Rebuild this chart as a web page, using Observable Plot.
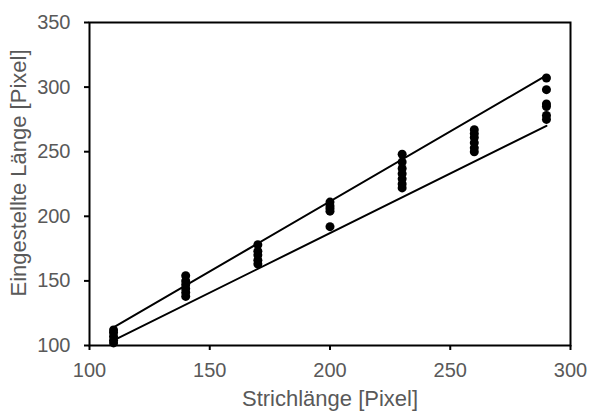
<!DOCTYPE html>
<html>
<head>
<meta charset="utf-8">
<script src="https://cdn.jsdelivr.net/npm/d3@7"></script>
<script src="https://cdn.jsdelivr.net/npm/@observablehq/plot@0.6"></script>
<style>
  html, body { margin: 0; padding: 0; background: #fff; }
  svg { font-family: "Liberation Sans", Arial, sans-serif; }
</style>
</head>
<body>
<div id="chart"></div>
<script>
const xCategories = [110, 140, 170, 200, 230, 260, 290];
const yValues = [
  [102, 104, 107, 110, 112],
  [138, 141, 144, 147, 150, 154],
  [163, 166, 170, 173, 178],
  [192, 204, 206, 208, 211],
  [222, 225, 229, 233, 237, 242, 248],
  [250, 253, 257, 261, 264, 267],
  [275, 278, 285, 287, 298, 307]
];
const upperLine = [[110, 114], [290, 309]];
const lowerLine = [[110, 104], [290, 270]];
const xTicks = [100, 150, 200, 250, 300];
const yTicks = [100, 150, 200, 250, 300, 350];
const xLabel = "Strichlänge [Pixel]";
const yLabel = "Eingestellte Länge [Pixel]";

const points = xCategories.flatMap((x, i) => yValues[i].map(y => ({x, y})));
const lines = [
  ...upperLine.map(([x, y]) => ({x, y, s: "upper"})),
  ...lowerLine.map(([x, y]) => ({x, y, s: "lower"}))
];

const chart = Plot.plot({
  width: 590,
  height: 412,
  marginLeft: 89,
  marginRight: 20,
  marginTop: 22,
  marginBottom: 67,
  style: {fontSize: "20px", color: "#595959", background: "white"},
  x: {domain: [100, 300]},
  y: {domain: [100, 350]},
  marks: [
    Plot.axisX({ticks: xTicks, tickSize: 5, tickPadding: 12, stroke: "black", strokeWidth: 2, fill: "#595959", fontSize: 20, label: null}),
    Plot.axisY({ticks: yTicks, tickSize: 5, tickPadding: 14, stroke: "black", strokeWidth: 2, fill: "#595959", fontSize: 20, label: null}),
    Plot.text([xLabel], {frameAnchor: "bottom", dy: 53, lineAnchor: "middle", textAnchor: "middle", fill: "#595959", fontSize: 22}),
    Plot.text([yLabel], {frameAnchor: "left", dx: -71, dy: -11, rotate: -90, lineAnchor: "middle", textAnchor: "middle", fill: "#595959", fontSize: 22}),
    Plot.line(lines, {x: "x", y: "y", z: "s", stroke: "black", strokeWidth: 2}),
    Plot.dot(points, {x: "x", y: "y", r: 4.5, fill: "black", stroke: "none"}),
    Plot.frame({stroke: "black", strokeWidth: 2})
  ]
});
document.getElementById("chart").appendChild(chart);
</script>
</body>
</html>
